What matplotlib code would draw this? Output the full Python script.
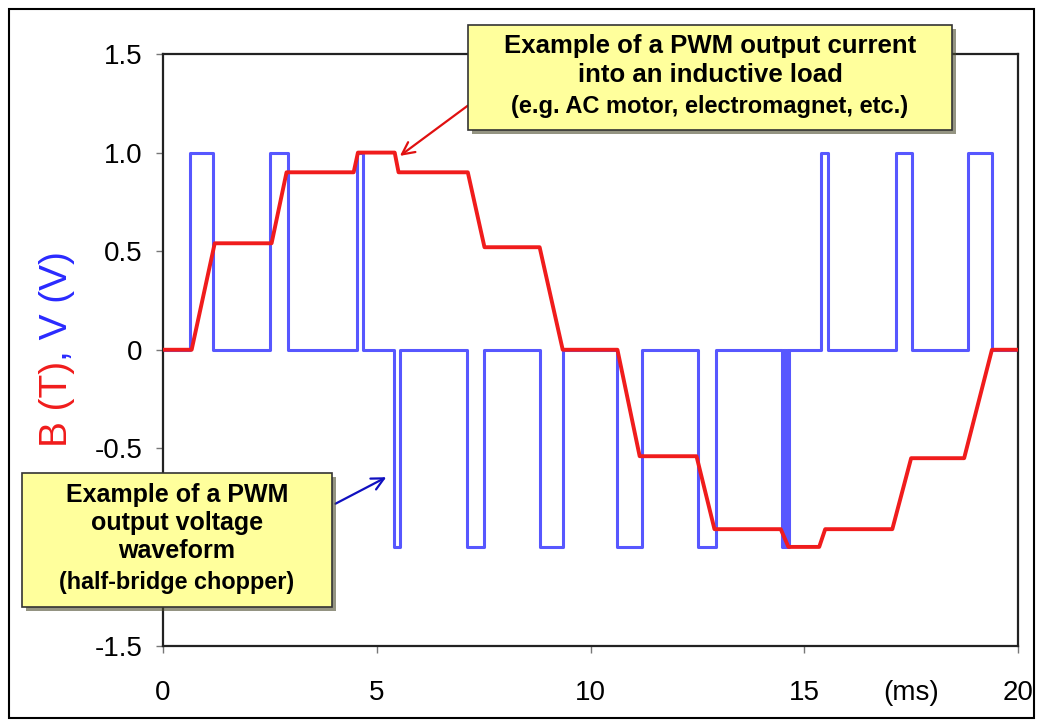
import matplotlib
matplotlib.use("Agg")
import matplotlib.pyplot as plt
import matplotlib.transforms as mtransforms
from matplotlib.patches import Rectangle
from matplotlib import patheffects

plt.rcParams['font.family'] = ['Liberation Sans', 'DejaVu Sans']

# PWM voltage: switching instants (ms) and level held after each instant
blue_edges = [0, 0.63, 1.16, 2.50, 2.93, 4.54, 4.67, 5.40, 5.55, 7.10, 7.50,
              8.81, 9.35, 10.63, 11.20, 12.52, 12.94, 14.48, 14.53, 14.55,
              14.60, 14.62, 14.65, 15.40, 15.56, 17.14, 17.51, 18.83, 19.39, 20]
blue_levels = [0, 1, 0, 1, 0, 1, 0, -1, 0, -1, 0, -1, 0, -1, 0, -1, 0, -1, 0,
               -1, 0, -1, 0, 1, 0, 1, 0, 1, 0, 0]

# Inductive-load current (piecewise linear)
red_t = [0, 0.67, 1.21, 2.54, 2.89, 4.46, 4.56, 5.42, 5.51, 7.13, 7.52, 8.81,
         9.35, 10.63, 11.15, 12.48, 12.90, 14.45, 14.63, 15.35, 15.49, 17.06,
         17.50, 18.74, 19.39, 20]
red_v = [0, 0, 0.54, 0.54, 0.90, 0.90, 1.0, 1.0, 0.90, 0.90, 0.52, 0.52, 0, 0,
         -0.54, -0.54, -0.91, -0.91, -1.0, -1.0, -0.91, -0.91, -0.55, -0.55, 0, 0]

x_ticks = [0, 5, 10, 15, 20]
y_ticks = [-1.5, -1.0, -0.5, 0, 0.5, 1.0, 1.5]
# the -1.0 label is hidden behind the voltage callout in the original
y_tick_labels = ['-1.5', '', '-0.5', '0', '0.5', '1.0', '1.5']

W, H = 1040, 725


def fx(x):
    return x / W


def fy(y):
    return 1 - y / H


fig = plt.figure(figsize=(10.4, 7.25), dpi=100)
ax = fig.add_axes([fx(163), fy(645.5), fx(1018 - 163), (645.5 - 54) / H])

ax.step(blue_edges, blue_levels, where='post', color='#3a3aff', lw=2.2,
        alpha=0.85, zorder=2)
ax.plot(red_t, red_v, color='#f01c1c', lw=2.8, zorder=3)

ax.set_xlim(0, 20)
ax.set_ylim(-1.5, 1.5)
ax.set_xticks(x_ticks)
ax.set_yticks(y_ticks)
ax.set_yticklabels(y_tick_labels)
ax.tick_params(labelsize=20, length=5, width=1, color='#777777')
ax.tick_params(axis='x', pad=20)
ax.tick_params(axis='y', pad=10)
for s in ax.spines.values():
    s.set_linewidth(1.6)
    s.set_color('#222222')

# unit label sits in the x tick-label row
ms_offset = mtransforms.ScaledTranslation(0, -25 / 72, fig.dpi_scale_trans)
ax.text(17.5, -1.5, '(ms)', fontsize=20, ha='center', va='top',
        transform=ax.transData + ms_offset)

# y label in two colours
t_red = fig.text(fx(57), fy(447), 'B (T)', color='#f01c1c', fontsize=28,
                 rotation=90, ha='center', va='bottom')
fig.canvas.draw()
bb = t_red.get_window_extent()
fig.text(fx(57), bb.y1 / H, ', V (V)', color='#2a2aff', fontsize=28,
         rotation=90, ha='center', va='bottom')

shadow = [patheffects.SimplePatchShadow(offset=(3, -3), alpha=0.6),
          patheffects.Normal()]

# top callout box
box1 = Rectangle((fx(468), fy(130)), fx(952 - 468), (130 - 25) / H,
                 transform=fig.transFigure, facecolor='#ffff9c',
                 edgecolor='#333333', lw=1.2, zorder=5)
box1.set_path_effects(shadow)
fig.patches.append(box1)
fig.text(fx(710), fy(46), 'Example of a PWM output current', fontsize=18.5,
         weight='bold', ha='center', va='center', zorder=6)
fig.text(fx(710), fy(75), 'into an inductive load', fontsize=18.5,
         weight='bold', ha='center', va='center', zorder=6)
fig.text(fx(710), fy(107), '(e.g. AC motor, electromagnet, etc.)',
         fontsize=17, weight='bold', ha='center', va='center', zorder=6)

# bottom callout box
box2 = Rectangle((fx(22), fy(607)), fx(332 - 22), (607 - 473) / H,
                 transform=fig.transFigure, facecolor='#ffff9c',
                 edgecolor='#333333', lw=1.2, zorder=5)
box2.set_path_effects(shadow)
fig.patches.append(box2)
for label, yy in [('Example of a PWM', 495), ('output voltage', 523),
                  ('waveform', 551)]:
    fig.text(fx(177), fy(yy), label, fontsize=18, weight='bold',
             ha='center', va='center', zorder=6)
fig.text(fx(177), fy(583), '(half-bridge chopper)', fontsize=16.8,
         weight='bold', ha='center', va='center', zorder=6)

# arrows
ax.annotate('', xy=(5.49, 0.975), xycoords='data',
            xytext=(fx(470), fy(104)), textcoords='figure fraction',
            arrowprops=dict(arrowstyle='->', color='#e01010', lw=1.6,
                            mutation_scale=22))
ax.annotate('', xy=(5.28, -0.64), xycoords='data',
            xytext=(fx(333), fy(505)), textcoords='figure fraction',
            arrowprops=dict(arrowstyle='->', color='#1010c0', lw=1.6,
                            mutation_scale=22))

# outer frame
frame = Rectangle((fx(9), fy(718)), fx(1034 - 9), (718 - 9) / H,
                  transform=fig.transFigure, fill=False, edgecolor='black',
                  lw=1.5, zorder=10)
fig.patches.append(frame)

fig.savefig('out.png', dpi=100)
